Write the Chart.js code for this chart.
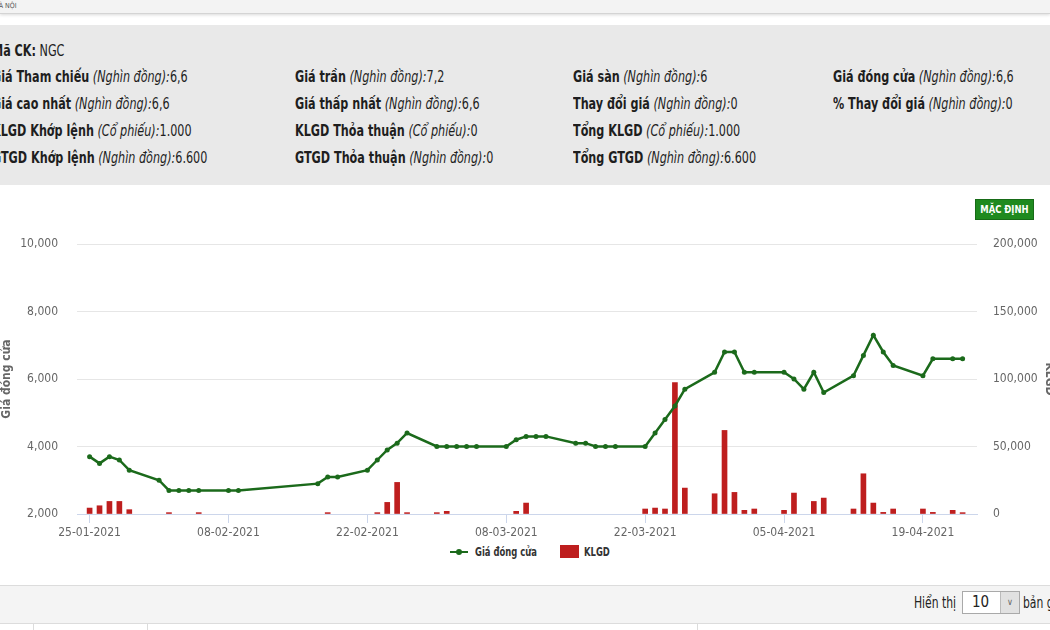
<!DOCTYPE html>
<html>
<head>
<meta charset="utf-8">
<script src="https://cdn.jsdelivr.net/npm/chart.js@4.4.1/dist/chart.umd.min.js"></script>
<style>
  html, body { margin: 0; padding: 0; }
  body {
    width: 1050px; height: 630px; overflow: hidden; position: relative; background: #fff;
    font-family: "DejaVu Sans Condensed", "DejaVu Sans", sans-serif;
    color: #222;
  }
  .topbar { position: absolute; left: 0; top: 0; width: 1050px; height: 13px; background: #f3f3f3;
    border-bottom: 1px solid #d4d4d4; box-shadow: 0 1px 3px rgba(0,0,0,0.15); }
  .topbar span { position: absolute; left: -6px; top: 2px; font-size: 7px; color: #555; }
  .info { position: absolute; left: 0; top: 25px; width: 1050px; height: 160px; background: #e9e9e9; }
  .row { position: absolute; font-size: 15px; white-space: nowrap; line-height: 18px;
    transform: scaleX(0.83); transform-origin: 0 50%; color: #1e1e1e; }
  .row b { font-weight: bold; }
  .row i { font-style: italic; }
  #wrap { position: absolute; left: 0; top: 190px; width: 1060px; height: 352px; }
  .btn { position: absolute; left: 975px; top: 199px; width: 59px; height: 21px; background: #1f8a1f;
    border: 1px solid #176b17; box-sizing: border-box; color: #fff; font-size: 11px; font-weight: bold;
    text-align: center; line-height: 19px; white-space: nowrap; }
  .btn span { display: inline-block; transform: scaleX(0.85); }
  .lg { position: absolute; white-space: nowrap; }
  .lgtxt { position: absolute; top: 544px; font-size: 13px; font-weight: bold; color: #333; line-height: 16px;
    white-space: nowrap; transform: scaleX(0.72); transform-origin: 0 50%; }
  .pager { position: absolute; left: 0; top: 585px; width: 1050px; height: 37px; background: #f4f4f4;
    border-top: 1px solid #dcdcdc; border-bottom: 1px solid #dcdcdc; }
  .pager .txt { position: absolute; top: 8px; font-size: 15px; color: #222; white-space: nowrap;
    transform: scaleX(0.8); transform-origin: 0 50%; }
  .pager .sel { position: absolute; left: 962px; top: 5px; width: 58px; height: 23px; background: #fff;
    border: 1px solid #a9a9a9; box-sizing: border-box; font-size: 15px; line-height: 21px; padding-left: 9px; }
  .pager .arr { position: absolute; right: 0; top: 0; width: 18px; height: 21px; background: #e1e1e1;
    border-left: 1px solid #bbb; font-size: 9px; text-align: center; color: #666; line-height: 21px; }
  .vl { position: absolute; top: 623px; width: 1px; height: 7px; background: #dcdcdc; }
</style>
</head>
<body>
<div class="topbar"><span>HÀ NỘI</span></div>

<div class="info">
  <div class="row" style="left:-8px; top:17px;"><b>Mã CK:</b> NGC</div>
  <div class="row" style="left:-8px; top:43px;"><b>Giá Tham chiếu</b> <i>(Nghìn đồng):</i>6,6</div>
  <div class="row" style="left:-8px; top:70px;"><b>Giá cao nhất</b> <i>(Nghìn đồng):</i>6,6</div>
  <div class="row" style="left:-8px; top:97px;"><b>KLGD Khớp lệnh</b> <i>(Cổ phiếu):</i>1.000</div>
  <div class="row" style="left:-8px; top:124px;"><b>GTGD Khớp lệnh</b> <i>(Nghìn đồng):</i>6.600</div>

  <div class="row" style="left:295px; top:43px;"><b>Giá trần</b> <i>(Nghìn đồng):</i>7,2</div>
  <div class="row" style="left:295px; top:70px;"><b>Giá thấp nhất</b> <i>(Nghìn đồng):</i>6,6</div>
  <div class="row" style="left:295px; top:97px;"><b>KLGD Thỏa thuận</b> <i>(Cổ phiếu):</i>0</div>
  <div class="row" style="left:295px; top:124px;"><b>GTGD Thỏa thuận</b> <i>(Nghìn đồng):</i>0</div>

  <div class="row" style="left:573px; top:43px;"><b>Giá sàn</b> <i>(Nghìn đồng):</i>6</div>
  <div class="row" style="left:573px; top:70px;"><b>Thay đổi giá</b> <i>(Nghìn đồng):</i>0</div>
  <div class="row" style="left:573px; top:97px;"><b>Tổng KLGD</b> <i>(Cổ phiếu):</i>1.000</div>
  <div class="row" style="left:573px; top:124px;"><b>Tổng GTGD</b> <i>(Nghìn đồng):</i>6.600</div>

  <div class="row" style="left:833px; top:43px;"><b>Giá đóng cửa</b> <i>(Nghìn đồng):</i>6,6</div>
  <div class="row" style="left:833px; top:70px;"><b>% Thay đổi giá</b> <i>(Nghìn đồng):</i>0</div>
</div>

<div class="btn"><span>MẶC ĐỊNH</span></div>

<div id="wrap"><canvas id="chart" width="1060" height="352"></canvas></div>

<!-- legend -->
<div class="lg" style="left:450px; top:551px; width:18px; height:2px; background:#1b6a1b;"></div>
<div class="lg" style="left:456px; top:549px; width:6px; height:6px; border-radius:3px; background:#1b6a1b;"></div>
<div class="lgtxt" style="left:475px;">Giá đóng cửa</div>
<div class="lg" style="left:560px; top:545px; width:19px; height:13px; background:#be1e1e;"></div>
<div class="lgtxt" style="left:584px;">KLGD</div>

<div class="pager">
  <span class="txt" style="left:914px;">Hiển thị</span>
  <div class="sel">10<span class="arr">&#8744;</span></div>
  <span class="txt" style="left:1023px;">bản ghi</span>
</div>
<div class="vl" style="left:33px;"></div>
<div class="vl" style="left:147px;"></div>
<div class="vl" style="left:697px;"></div>

<script>
// trading days (dd-mm-yyyy)
const tradeDates = [
  '25-01-2021','26-01-2021','27-01-2021','28-01-2021','29-01-2021',
  '01-02-2021','02-02-2021','03-02-2021','04-02-2021','05-02-2021',
  '08-02-2021','09-02-2021','17-02-2021','18-02-2021','19-02-2021',
  '22-02-2021','23-02-2021','24-02-2021','25-02-2021','26-02-2021',
  '01-03-2021','02-03-2021','03-03-2021','04-03-2021','05-03-2021',
  '08-03-2021','09-03-2021','10-03-2021','11-03-2021','12-03-2021',
  '15-03-2021','16-03-2021','17-03-2021','18-03-2021','19-03-2021',
  '22-03-2021','23-03-2021','24-03-2021','25-03-2021','26-03-2021',
  '29-03-2021','30-03-2021','31-03-2021','01-04-2021','02-04-2021',
  '05-04-2021','06-04-2021','07-04-2021','08-04-2021','09-04-2021',
  '12-04-2021','13-04-2021','14-04-2021','15-04-2021','16-04-2021',
  '19-04-2021','20-04-2021','22-04-2021','23-04-2021'
];

// Giá đóng cửa
const closePrices = [
  3700, 3500, 3700, 3600, 3300,
  3000, 2700, 2700, 2700, 2700,
  2700, 2700, 2900, 3100, 3100,
  3300, 3600, 3900, 4100, 4400,
  4000, 4000, 4000, 4000, 4000,
  4000, 4200, 4300, 4300, 4300,
  4100, 4100, 4000, 4000, 4000,
  4000, 4400, 4800, 5200, 5700,
  6200, 6800, 6800, 6200, 6200,
  6200, 6000, 5700, 6200, 5600,
  6100, 6700, 7300, 6800, 6400,
  6100, 6600, 6600, 6600
];

// KLGD
const volumes = [
  4400, 6100, 9300, 9300, 3200,
  0, 1000, 0, 0, 1000,
  0, 0, 0, 1000, 0,
  0, 1000, 8600, 23400, 1000,
  1000, 2000, 0, 0, 0,
  0, 2000, 8100, 0, 0,
  0, 0, 0, 0, 0,
  3700, 4400, 3700, 97400, 19200,
  15000, 61900, 16000, 2700, 3700,
  2700, 15500, 0, 9300, 11800,
  3700, 29800, 8100, 1200, 3700,
  3700, 1200, 2700, 1000
];

const xTickDates = ['25-01-2021','08-02-2021','22-02-2021','08-03-2021','22-03-2021','05-04-2021','19-04-2021'];

const DAY = 86400000;
function toTime(s) {
  const [d, m, y] = s.split('-').map(Number);
  return Date.UTC(y, m - 1, d);
}
const t0 = toTime(tradeDates[0]);
const dayIndex = s => (toTime(s) - t0) / DAY;
function fmtDay(v) {
  const dt = new Date(t0 + v * DAY);
  const p = n => String(n).padStart(2, '0');
  return p(dt.getUTCDate()) + '-' + p(dt.getUTCMonth() + 1) + '-' + dt.getUTCFullYear();
}

Chart.defaults.font.family = '"DejaVu Sans Condensed", "DejaVu Sans", sans-serif';
Chart.defaults.color = '#666';

const ctx = document.getElementById('chart').getContext('2d');
new Chart(ctx, {
  data: {
    datasets: [
      {
        type: 'line',
        label: 'Giá đóng cửa',
        data: tradeDates.map((d, i) => ({ x: dayIndex(d), y: closePrices[i] })),
        borderColor: '#1b6a1b',
        backgroundColor: '#1b6a1b',
        borderWidth: 2.5,
        pointRadius: 2.5,
        pointBorderWidth: 0,
        tension: 0,
        yAxisID: 'y',
        order: 0
      },
      {
        type: 'bar',
        label: 'KLGD',
        // no bar is drawn on days without volume
        data: tradeDates.map((d, i) => ({ x: dayIndex(d), y: volumes[i] || null })),
        backgroundColor: '#be1e1e',
        borderColor: '#be1e1e',
        borderWidth: 0,
        barThickness: 5,
        yAxisID: 'y1',
        order: 1
      }
    ]
  },
  options: {
    responsive: false,
    animation: false,
    devicePixelRatio: 1,
    layout: { padding: { top: 54, bottom: 0, left: 0, right: 0 } },
    plugins: { legend: { display: false }, tooltip: { enabled: false } },
    scales: {
      x: {
        type: 'linear',
        offset: false,
        min: -1.27,
        max: 89.45,
        afterBuildTicks: s => { s.ticks = xTickDates.map(d => ({ value: dayIndex(d) })); },
        afterFit: s => { s.height = 28; },
        ticks: {
          callback: v => fmtDay(v),
          font: { size: 12 },
          color: '#666',
          padding: 3,
          maxRotation: 0,
          autoSkip: false
        },
        grid: { offset: false, drawOnChartArea: false, drawTicks: true, tickLength: 9, tickColor: '#ccd6eb' },
        border: { color: '#ccd6eb' }
      },
      y: {
        position: 'left',
        min: 2000,
        max: 10000,
        afterFit: s => { s.width = 77; },
        ticks: { stepSize: 2000, font: { size: 12 }, color: '#666', padding: 19 },
        grid: { color: '#e6e6e6', drawTicks: false },
        border: { display: false },
        title: { display: true, text: 'Giá đóng cửa', font: { size: 12, weight: 'bold' }, color: '#666', padding: 0 }
      },
      y1: {
        position: 'right',
        min: 0,
        max: 200000,
        afterFit: s => { s.width = 83; },
        ticks: { stepSize: 50000, font: { size: 12 }, color: '#666', padding: 16 },
        grid: { drawOnChartArea: false, drawTicks: false },
        border: { display: false },
        title: { display: true, text: 'KLGD', font: { size: 12, weight: 'bold' }, color: '#666', padding: 4 }
      }
    }
  }
});
</script>
</body>
</html>
